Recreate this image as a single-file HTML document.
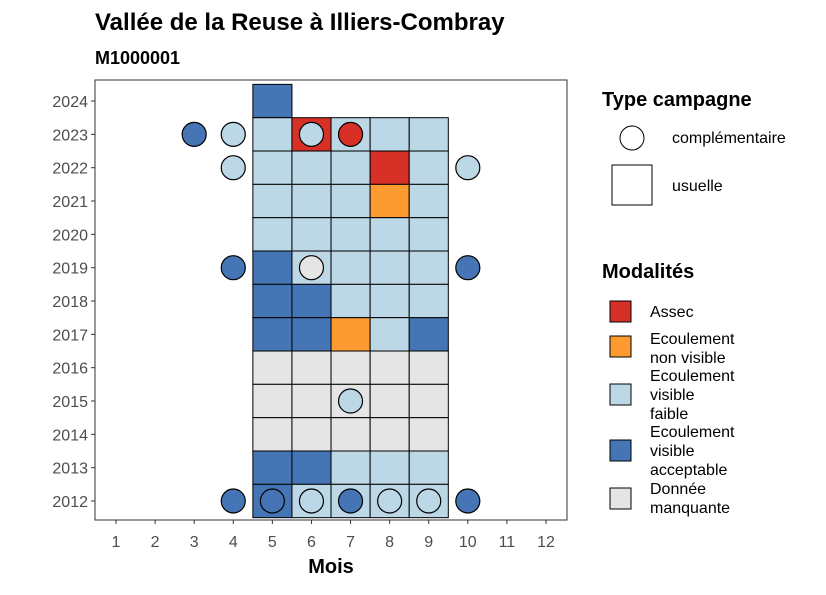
<!DOCTYPE html>
<html><head><meta charset="utf-8"><style>
body{margin:0;background:#fff;font-family:"Liberation Sans",sans-serif}
</style></head><body>
<svg id="c" width="826" height="590" xmlns="http://www.w3.org/2000/svg" font-family="Liberation Sans, sans-serif">
<text x="95" y="30" font-size="24" font-weight="bold" fill="#000">Vallée de la Reuse à Illiers-Combray</text>
<text x="95" y="64" font-size="18" font-weight="bold" fill="#000">M1000001</text>
<g id="tiles"></g><g id="circles"></g>
<rect x="95" y="80" width="472" height="440" fill="none" stroke="#333" stroke-width="1"/>
<g id="axes"></g>
<text x="331" y="573" font-size="20" font-weight="bold" text-anchor="middle">Mois</text>
<g>
<text x="602" y="106" font-size="20" font-weight="bold">Type campagne</text>
<circle cx="632" cy="138" r="12" fill="#fff" stroke="#000"/>
<text x="672" y="143" font-size="16">complémentaire</text>
<rect x="612" y="165" width="40" height="40" fill="#fff" stroke="#000"/>
<text x="672" y="191" font-size="16">usuelle</text>
</g>
<g>
<text x="602" y="278" font-size="20" font-weight="bold">Modalités</text>
<rect x="610" y="301" width="21" height="21" fill="#d73027" stroke="#000"/>
<text x="650" y="317" font-size="16">Assec</text>
<rect x="610" y="336" width="21" height="21" fill="#fd9a30" stroke="#000"/>
<text x="650" y="344" font-size="16">Ecoulement</text><text x="650" y="363" font-size="16">non visible</text>
<rect x="610" y="384" width="21" height="21" fill="#bcd7e6" stroke="#000"/>
<text x="650" y="381" font-size="16">Ecoulement</text><text x="650" y="400" font-size="16">visible</text><text x="650" y="419" font-size="16">faible</text>
<rect x="610" y="440" width="21" height="21" fill="#4575b4" stroke="#000"/>
<text x="650" y="437" font-size="16">Ecoulement</text><text x="650" y="456" font-size="16">visible</text><text x="650" y="475" font-size="16">acceptable</text>
<rect x="610" y="488" width="21" height="21" fill="#e5e5e5" stroke="#000"/>
<text x="650" y="494" font-size="16">Donnée</text><text x="650" y="513" font-size="16">manquante</text>
</g>
</svg>
<script>
const months=[1,2,3,4,5,6,7,8,9,10,11,12];
const years=[2012,2013,2014,2015,2016,2017,2018,2019,2020,2021,2022,2023,2024];
const tileYears=[2024,2023,2023,2023,2023,2023,2022,2022,2022,2022,2022,2021,2021,2021,2021,2021,2020,2020,2020,2020,2020,2019,2019,2019,2019,2019,2018,2018,2018,2018,2018,2017,2017,2017,2017,2017,2016,2016,2016,2016,2016,2015,2015,2015,2015,2015,2014,2014,2014,2014,2014,2013,2013,2013,2013,2013,2012,2012,2012,2012,2012];
const tileMonths=[5,5,6,7,8,9,5,6,7,8,9,5,6,7,8,9,5,6,7,8,9,5,6,7,8,9,5,6,7,8,9,5,6,7,8,9,5,6,7,8,9,5,6,7,8,9,5,6,7,8,9,5,6,7,8,9,5,6,7,8,9];
const tileMods=['A','F','S','F','F','F','F','F','F','S','F','F','F','F','N','F','F','F','F','F','F','A','F','F','F','F','A','A','F','F','F','A','A','N','F','A','M','M','M','M','M','M','M','M','M','M','M','M','M','M','M','A','A','F','F','F','A','F','F','F','F'];
const circYears=[2023,2023,2023,2023,2022,2022,2019,2019,2019,2015,2012,2012,2012,2012,2012,2012,2012];
const circMonths=[3,4,6,7,4,10,4,6,10,7,4,5,6,7,8,9,10];
const circMods=['A','F','F','S','F','F','A','M','A','F','A','A','F','A','F','F','A'];
const colors={S:'#d73027',N:'#fd9a30',F:'#bcd7e6',A:'#4575b4',M:'#e5e5e5'};
const x=m=>116+(m-1)*39.09;
const y=yr=>501-(yr-2012)*33.33;
const NS='http://www.w3.org/2000/svg';
function mk(t,a,p){const e=document.createElementNS(NS,t);for(const k in a)e.setAttribute(k,a[k]);p.appendChild(e);return e;}
const tg=document.getElementById('tiles'),cg=document.getElementById('circles'),ag=document.getElementById('axes');
tileYears.forEach((yr,i)=>{
 const r=mk('rect',{x:x(tileMonths[i])-19.5,y:y(yr)-16.67,width:39.09,height:33.33,fill:colors[tileMods[i]],stroke:'#000','stroke-width':1},tg);
 
 
});
circYears.forEach((yr,i)=>{
 const c=mk('circle',{cx:x(circMonths[i]),cy:y(yr),r:12,fill:colors[circMods[i]],stroke:'#000','stroke-width':1.2},cg);
 
 
});
months.forEach(m=>{
 mk('line',{x1:x(m),x2:x(m),y1:520,y2:524,stroke:'#333'},ag);
 const t=mk('text',{x:x(m),y:547,'font-size':16,'text-anchor':'middle',fill:'#4d4d4d'},ag);t.textContent=m;
 
 
});
years.forEach(yr=>{
 mk('line',{x1:91,x2:95,y1:y(yr),y2:y(yr),stroke:'#333'},ag);
 const t=mk('text',{x:88,y:y(yr)+6,'font-size':16,'text-anchor':'end',fill:'#4d4d4d'},ag);t.textContent=yr;
 
 
});
</script>
</body></html>
